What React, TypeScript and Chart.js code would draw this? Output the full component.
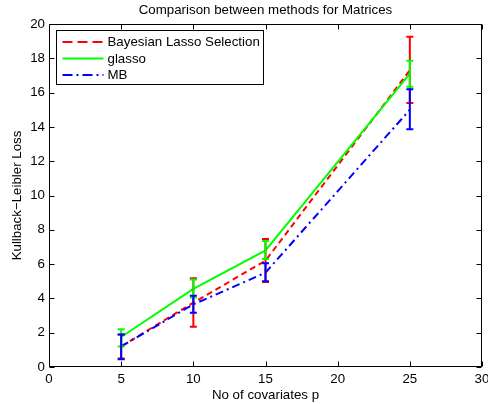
import React, { useEffect, useRef } from "react";
import { Chart, registerables } from "chart.js";

Chart.register(...registerables);

// ---- data ----
const covariates = [5, 10, 15, 25];
const xTicks = [0, 5, 10, 15, 20, 25, 30];
const yTicks = [0, 2, 4, 6, 8, 10, 12, 14, 16, 18, 20];

const bayesMean = [1.2, 3.75, 6.2, 17.3];
const bayesLow = [0.5, 2.35, 4.95, 15.4];
const bayesHigh = [1.9, 5.17, 7.46, 19.26];

const glassoMean = [1.75, 4.55, 6.8, 17.1];
const glassoLow = [1.2, 4.05, 6.3, 16.34];
const glassoHigh = [2.2, 5.1, 7.35, 17.86];

const mbMean = [1.2, 3.65, 5.5, 15.0];
const mbLow = [0.45, 3.17, 5.0, 13.86];
const mbHigh = [1.9, 4.16, 6.05, 16.2];

const seriesLabels = ["Bayesian Lasso Selection", "glasso", "MB"];
const titleText = "Comparison between methods for Matrices";
const xTitle = "No of covariates p";
const yTitle = "Kullback\u2212Leibler Loss";

const FONT = "'Liberation Sans', Arial, Helvetica, sans-serif";
const FS = 13.3;

const lows = [bayesLow, glassoLow, mbLow];
const highs = [bayesHigh, glassoHigh, mbHigh];
const legendDashes = [[10, 5], [], [10, 4, 2, 4]];

const errorBarPlugin = {
  id: "errorBars",
  afterDatasetsDraw(chart: any) {
    const ctx = chart.ctx;
    const xs = chart.scales.x;
    const ys = chart.scales.y;
    chart.data.datasets.forEach((ds: any, i: number) => {
      ctx.save();
      ctx.strokeStyle = ds.borderColor;
      ctx.lineWidth = 2;
      ctx.setLineDash([]);
      covariates.forEach((c, j) => {
        const x = xs.getPixelForValue(c);
        const y1 = ys.getPixelForValue(lows[i][j]);
        const y2 = ys.getPixelForValue(highs[i][j]);
        ctx.beginPath();
        ctx.moveTo(x, y1);
        ctx.lineTo(x, y2);
        ctx.moveTo(x - 3.5, y1);
        ctx.lineTo(x + 3.5, y1);
        ctx.moveTo(x - 3.5, y2);
        ctx.lineTo(x + 3.5, y2);
        ctx.stroke();
      });
      ctx.restore();
    });
  },
};

const framePlugin = {
  id: "frame",
  afterDraw(chart: any) {
    const ctx = chart.ctx;
    const { left, right, top, bottom } = chart.chartArea;
    const xs = chart.scales.x;
    const ys = chart.scales.y;
    ctx.save();
    ctx.strokeStyle = "#000";
    ctx.lineWidth = 1;
    ctx.setLineDash([]);
    const L = Math.round(left) + 0.5;
    const R = Math.round(right) - 0.5;
    const T = Math.round(top) + 0.5;
    const B = Math.round(bottom) - 0.5;
    ctx.beginPath();
    ctx.rect(L, T, R - L, B - T);
    const tl = 5;
    xTicks.forEach((v) => {
      const x = Math.round(xs.getPixelForValue(v)) + 0.5;
      ctx.moveTo(x, B);
      ctx.lineTo(x, B - tl);
      ctx.moveTo(x, T);
      ctx.lineTo(x, T + tl);
    });
    yTicks.forEach((v) => {
      const y = Math.round(ys.getPixelForValue(v)) + 0.5;
      ctx.moveTo(L, y);
      ctx.lineTo(L + tl, y);
      ctx.moveTo(R, y);
      ctx.lineTo(R - tl, y);
    });
    ctx.stroke();

    // title
    ctx.fillStyle = "#000";
    ctx.font = `${FS}px ${FONT}`;
    ctx.textAlign = "center";
    ctx.textBaseline = "middle";
    ctx.fillText(titleText, (left + right) / 2, 10);

    // legend
    const bx = left + 7.5;
    const by = top + 6.5;
    const bw = 207;
    const bh = 54;
    ctx.fillStyle = "#fff";
    ctx.fillRect(bx, by, bw, bh);
    ctx.strokeStyle = "#000";
    ctx.lineWidth = 1;
    ctx.strokeRect(bx, by, bw, bh);
    chart.data.datasets.forEach((ds: any, i: number) => {
      const y = by + 11.5 + i * 16.5;
      ctx.save();
      ctx.strokeStyle = ds.borderColor;
      ctx.lineWidth = 2;
      ctx.setLineDash(legendDashes[i]);
      ctx.beginPath();
      ctx.moveTo(bx + 6, y);
      ctx.lineTo(bx + 47, y);
      ctx.stroke();
      ctx.restore();
      ctx.fillStyle = "#000";
      ctx.textAlign = "left";
      ctx.textBaseline = "middle";
      ctx.fillText(ds.label, bx + 51, y + 0.5);
    });
    ctx.restore();
  },
};

export default function App() {
  const ref = useRef<HTMLCanvasElement | null>(null);
  useEffect(() => {
    if (!ref.current) return;
    const toPts = (arr: number[]) => covariates.map((c, j) => ({ x: c, y: arr[j] }));
    const chart = new Chart(ref.current, {
      type: "line",
      data: {
        datasets: [
          {
            label: seriesLabels[0],
            data: toPts(bayesMean),
            borderColor: "#ff0000",
            borderWidth: 2,
            borderDash: [6, 4],
            pointRadius: 0,
            fill: false,
            order: 2,
          },
          {
            label: seriesLabels[1],
            data: toPts(glassoMean),
            borderColor: "#00ff00",
            borderWidth: 2,
            pointRadius: 0,
            fill: false,
            order: 1,
          },
          {
            label: seriesLabels[2],
            data: toPts(mbMean),
            borderColor: "#0000ff",
            borderWidth: 2,
            borderDash: [8, 4, 2, 4],
            pointRadius: 0,
            fill: false,
            order: 0,
          },
        ],
      },
      options: {
        animation: false,
        responsive: false,
        maintainAspectRatio: false,
        layout: { padding: { top: 24, right: 6, left: 0, bottom: 0 } },
        plugins: {
          legend: { display: false },
          title: { display: false },
          tooltip: { enabled: false },
        },
        scales: {
          x: {
            type: "linear",
            min: 0,
            max: 30,
            afterBuildTicks: (s: any) => {
              s.ticks = xTicks.map((v) => ({ value: v }));
            },
            ticks: { font: { family: FONT, size: FS }, color: "#000", padding: 4, maxRotation: 0 },
            grid: { display: false, drawTicks: false },
            border: { display: false },
            title: {
              display: true,
              text: xTitle,
              color: "#000",
              font: { family: FONT, size: FS },
              padding: { top: 0, bottom: 1 },
            },
            afterFit: (s: any) => {
              s.height = 37;
              s.paddingLeft = 0;
              s.paddingRight = 0;
            },
          },
          y: {
            type: "linear",
            min: 0,
            max: 20,
            afterBuildTicks: (s: any) => {
              s.ticks = yTicks.map((v) => ({ value: v }));
            },
            ticks: { font: { family: FONT, size: FS }, color: "#000", padding: 4 },
            grid: { display: false, drawTicks: false },
            border: { display: false },
            title: {
              display: true,
              text: yTitle,
              color: "#000",
              font: { family: FONT, size: FS },
              padding: { top: 9, bottom: 0 },
            },
            afterFit: (s: any) => {
              s.width = 49;
              s.paddingTop = 0;
              s.paddingBottom = 0;
            },
          },
        },
      },
      plugins: [errorBarPlugin, framePlugin],
    } as any);
    return () => chart.destroy();
  }, []);
  return (
    <div style={{ position: "fixed", left: 0, top: 0, width: 488, height: 404, background: "#fff" }}>
      <canvas ref={ref} width={488} height={404} style={{ display: "block" }} />
    </div>
  );
}
